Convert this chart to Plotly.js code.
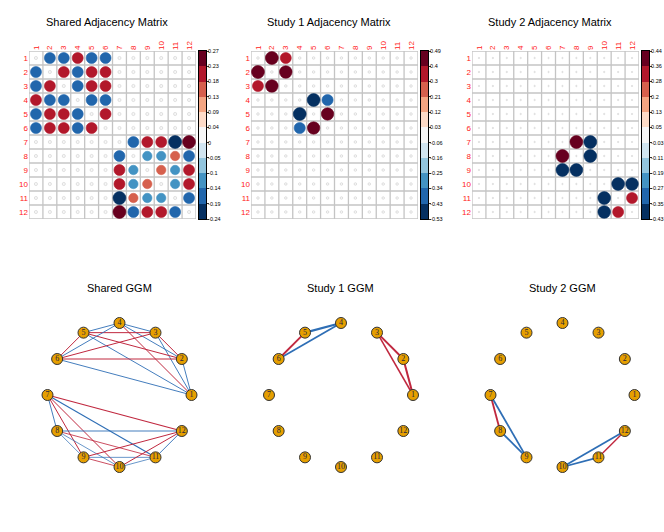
<!DOCTYPE html>
<html>
<head>
<meta charset="utf-8">
<script src="https://cdn.plot.ly/plotly-3.0.1.min.js"></script>
<style>
  html, body { margin: 0; padding: 0; background: #fff; }
  #chart { width: 664px; height: 532px; }
</style>
</head>
<body>
<div id="chart"></div>
<script>
// node labels 1..12
var nodes = [1, 2, 3, 4, 5, 6, 7, 8, 9, 10, 11, 12];

// shared network: edge list (from, to, weight)
var sharedFrom   = [1, 1, 1, 1, 1, 2, 2, 2, 2, 3, 3, 3, 4, 4, 5, 7, 7, 7, 7, 7, 8, 8, 8, 8, 9, 9, 9, 10, 10, 11];
var sharedTo     = [2, 3, 4, 5, 6, 3, 4, 5, 6, 4, 5, 6, 5, 6, 6, 8, 9, 10, 11, 12, 9, 10, 11, 12, 10, 11, 12, 11, 12, 12];
var sharedWeight = [-0.17, -0.17, 0.20, -0.17, -0.17, 0.20, -0.17, 0.20, 0.20, -0.17, 0.20, 0.20, -0.17, -0.17, 0.20,
                    -0.17, 0.20, 0.20, -0.24, 0.27, -0.12, -0.12, 0.15, -0.17, 0.15, -0.12, 0.20, -0.12, 0.20, -0.17];

// study 1 network
var study1From   = [1, 1, 2, 4, 4, 5];
var study1To     = [2, 3, 3, 5, 6, 6];
var study1Weight = [0.49, 0.35, 0.46, -0.53, -0.40, 0.45];

// study 2 network
var study2From   = [7, 7, 8, 10, 10, 11];
var study2To     = [8, 9, 9, 11, 12, 12];
var study2Weight = [0.44, -0.43, -0.42, -0.42, -0.41, 0.32];

// colour bar labels (bottom to top)
var sharedTicks = ["-0.24", "-0.19", "-0.14", "-0.1", "-0.05", "0", "0.04", "0.09", "0.13", "0.18", "0.23", "0.27"];
var study1Ticks = ["-0.53", "-0.43", "-0.34", "-0.25", "-0.16", "-0.06", "0.03", "0.12", "0.21", "0.3", "0.4", "0.49"];
var study2Ticks = ["-0.43", "-0.35", "-0.27", "-0.19", "-0.11", "-0.03", "0.05", "0.13", "0.2", "0.28", "0.36", "0.44"];

var palette = ["#053061", "#2166AC", "#4393C3", "#92C5DE", "#D1E5F0", "#F7F7F7",
               "#FDDBC7", "#F4A582", "#D6604D", "#B2182B", "#67001F"];

var W = 664, H = 532;
function dx(a, b) { return [a / W, b / W]; }
function dy(a, b) { return [1 - b / H, 1 - a / H]; }

function buildMatrix(from, to, w) {
  var m = [];
  for (var i = 0; i < 12; i++) { m.push([0, 0, 0, 0, 0, 0, 0, 0, 0, 0, 0, 0]); }
  for (var k = 0; k < from.length; k++) {
    m[from[k] - 1][to[k] - 1] = w[k];
    m[to[k] - 1][from[k] - 1] = w[k];
  }
  return m;
}

var panels = [
  {title: "Shared Adjacency Matrix", net: "Shared GGM", from: sharedFrom, to: sharedTo, w: sharedWeight, ticks: sharedTicks,
   gx: [29, 196], cbx: [199, 206], cx: 119.5},
  {title: "Study 1 Adjacency Matrix", net: "Study 1 GGM", from: study1From, to: study1To, w: study1Weight, ticks: study1Ticks,
   gx: [251, 418], cbx: [421, 428], cx: 341},
  {title: "Study 2 Adjacency Matrix", net: "Study 2 GGM", from: study2From, to: study2To, w: study2Weight, ticks: study2Ticks,
   gx: [472, 639], cbx: [642, 649], cx: 562.5}
];

var gy = [51, 219];
var netCy = 395, netHalf = 90, netRange = 1.25;

var data = [];
var layout = {
  width: W, height: H,
  margin: {l: 0, r: 0, t: 0, b: 0},
  paper_bgcolor: "#fff", plot_bgcolor: "#fff",
  showlegend: false,
  font: {family: "Liberation Sans, Arial, sans-serif", color: "#000"},
  shapes: [], annotations: []
};

var stepColorscale = [];
for (var c = 0; c < palette.length; c++) {
  stepColorscale.push([c / palette.length, palette[c]]);
  stepColorscale.push([(c + 1) / palette.length, palette[c]]);
}

panels.forEach(function (p, idx) {
  var n = idx + 1;
  var xa = "x" + n, ya = "y" + n;
  var cbN = n + 3, netN = n + 6;
  var m = buildMatrix(p.from, p.to, p.w);
  var flat = [].concat.apply([], m);
  var vmin = Math.min.apply(null, flat), vmax = Math.max.apply(null, flat);
  var cell = (p.gx[1] - p.gx[0]) / 12;

  // adjacency circles
  var xs = [], ys = [], sizes = [], cols = [], lcols = [];
  for (var r = 0; r < 12; r++) {
    for (var cc = 0; cc < 12; cc++) {
      var v = m[r][cc];
      var s = 2 * (v - vmin) / (vmax - vmin) - 1;
      var bin = Math.min(10, Math.floor((v - vmin) / (vmax - vmin) * 11));
      xs.push(cc + 1); ys.push(r + 1);
      sizes.push(0.93 * cell * Math.sqrt(Math.abs(s)));
      cols.push(palette[bin]);
      lcols.push(bin === 5 ? "#CFCFCF" : palette[bin]);
    }
  }
  data.push({
    type: "scatter", mode: "markers", x: xs, y: ys, xaxis: xa, yaxis: ya,
    marker: {size: sizes, color: cols, opacity: 1, line: {color: lcols, width: 0.6}},
    hoverinfo: "skip"
  });

  var tickFont = {color: "#FF2020", size: 8, family: "Liberation Sans, Arial, sans-serif"};
  layout["xaxis" + (n === 1 ? "" : n)] = {
    domain: dx(p.gx[0], p.gx[1]), anchor: ya, range: [0.5, 12.5], side: "top",
    tickmode: "array", tickvals: nodes, ticktext: nodes.map(String), tickangle: -90,
    tickfont: tickFont, ticks: "", showgrid: false, zeroline: false, fixedrange: true
  };
  layout["yaxis" + (n === 1 ? "" : n)] = {
    domain: dy(gy[0], gy[1]), anchor: xa, range: [12.5, 0.5],
    tickmode: "array", tickvals: nodes, ticktext: nodes.map(String),
    tickfont: tickFont, ticks: "", showgrid: false, zeroline: false, fixedrange: true
  };
  for (var g = 0; g <= 12; g++) {
    layout.shapes.push({type: "line", xref: xa, yref: ya, x0: g + 0.5, x1: g + 0.5, y0: 0.5, y1: 12.5,
      line: {color: "#C4C4C4", width: 1.3}, layer: "below"});
    layout.shapes.push({type: "line", xref: xa, yref: ya, x0: 0.5, x1: 12.5, y0: g + 0.5, y1: g + 0.5,
      line: {color: "#C4C4C4", width: 1.3}, layer: "below"});
  }

  // colour bar
  var step = (vmax - vmin) / 11;
  var centers = [], zc = [], tv = [];
  for (var b = 0; b < 11; b++) { centers.push(vmin + (b + 0.5) * step); zc.push([b]); }
  for (var t = 0; t < p.ticks.length; t++) { tv.push(vmin + t * step); }
  data.push({
    type: "heatmap", x: [0], y: centers, z: zc, xaxis: "x" + cbN, yaxis: "y" + cbN,
    colorscale: stepColorscale, zmin: -0.5, zmax: 10.5, showscale: false, hoverinfo: "skip"
  });
  layout["xaxis" + cbN] = {
    domain: dx(p.cbx[0], p.cbx[1]), anchor: "y" + cbN, range: [-0.5, 0.5],
    showticklabels: false, ticks: "", showgrid: false, zeroline: false,
    showline: true, mirror: true, linecolor: "#000", linewidth: 1, fixedrange: true
  };
  layout["yaxis" + cbN] = {
    domain: dy(gy[0], gy[1]), anchor: "x" + cbN, range: [vmin, vmax], side: "right",
    tickmode: "array", tickvals: tv, ticktext: p.ticks, ticks: "outside", ticklen: 2, tickwidth: 0.8,
    tickcolor: "#000", tickfont: {size: 5.5, color: "#000"}, ticklabelstandoff: -2,
    showgrid: false, zeroline: false,
    showline: true, mirror: true, linecolor: "#000", linewidth: 1, fixedrange: true
  };

  // network
  var px = nodes.map(function (k) { return Math.cos((k - 1) * Math.PI / 6); });
  var py = nodes.map(function (k) { return Math.sin((k - 1) * Math.PI / 6); });
  for (var e = 0; e < p.from.length; e++) {
    var a = p.from[e] - 1, bb = p.to[e] - 1;
    data.push({
      type: "scatter", mode: "lines", x: [px[a], px[bb]], y: [py[a], py[bb]],
      xaxis: "x" + netN, yaxis: "y" + netN,
      line: {color: p.w[e] > 0 ? "#C0283F" : "#2E6EB5", width: 0.3 + 3.5 * Math.abs(p.w[e])},
      hoverinfo: "skip"
    });
  }
  data.push({
    type: "scatter", mode: "markers+text", x: px, y: py, text: nodes.map(String),
    xaxis: "x" + netN, yaxis: "y" + netN, textposition: "middle center",
    textfont: {family: "Liberation Serif, Times New Roman, serif", size: 8, color: "#1F1F3F"},
    marker: {size: 11, color: "#E69F00", opacity: 1, line: {color: "#333", width: 1}},
    hoverinfo: "skip"
  });
  layout["xaxis" + netN] = {
    domain: dx(p.cx - netHalf, p.cx + netHalf), anchor: "y" + netN,
    range: [-netRange, netRange], visible: false, fixedrange: true
  };
  layout["yaxis" + netN] = {
    domain: dy(netCy - netHalf, netCy + netHalf), anchor: "x" + netN,
    range: [-netRange, netRange], visible: false, fixedrange: true
  };

  // titles
  var tcx = (p.gx[0] + p.gx[1]) / 2 - 6;
  layout.annotations.push({text: p.title, xref: "paper", yref: "paper", x: tcx / W, y: 1 - 22 / H,
    xanchor: "center", yanchor: "middle", showarrow: false, font: {size: 11, color: "#000"}});
  layout.annotations.push({text: p.net, xref: "paper", yref: "paper", x: p.cx / W, y: 1 - 288 / H,
    xanchor: "center", yanchor: "middle", showarrow: false, font: {size: 11, color: "#000"}});
});

Plotly.newPlot("chart", data, layout, {displayModeBar: false, staticPlot: true});
</script>
</body>
</html>
